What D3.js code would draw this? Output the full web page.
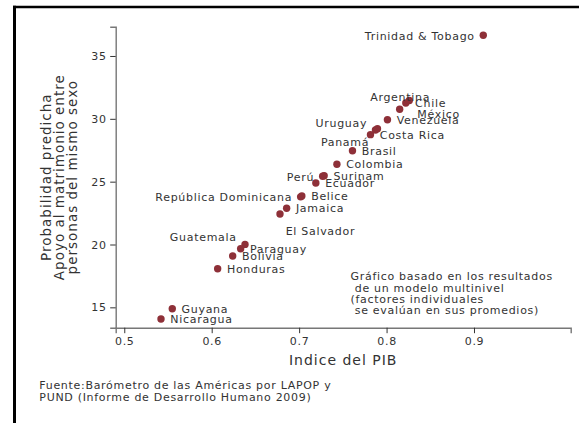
<!DOCTYPE html>
<html>
<head>
<meta charset="utf-8">
<script src="https://cdn.jsdelivr.net/npm/d3@7"></script>
<style>
  html, body { margin: 0; padding: 0; background: #fff; }
  svg { display: block; }
  text { font-family: "DejaVu Sans", Verdana, sans-serif; fill: #333; }
</style>
</head>
<body>
<svg id="chart" width="579" height="423"></svg>
<script>
// ---- data ----
const countries = ["Trinidad & Tobago","México","Chile","Argentina","Venezuela","Panamá","Uruguay","Costa Rica","Brasil","Colombia","Surinam","Perú","Ecuador","República Dominicana","Belice","Jamaica","El Salvador","Guatemala","Paraguay","Bolivia","Honduras","Guyana","Nicaragua"];
const gdpIndex  = [0.9106,0.826,0.822,0.815,0.801,0.7896,0.7873,0.7816,0.761,0.7432,0.7286,0.7269,0.7191,0.7017,0.7031,0.6857,0.6781,0.6381,0.6331,0.624,0.6068,0.5549,0.542];
const support   = [36.65,31.46,31.26,30.76,29.93,29.21,29.11,28.74,27.46,26.38,25.47,25.43,24.89,23.79,23.86,22.88,22.43,20.01,19.66,19.08,18.07,14.89,14.07];
// clock position of each marker label (Stata style)
const labelClock = [9,4,3,12,3,7,10,3,3,3,3,9,3,9,3,3,5,10,3,3,3,3,3];
const xTicks = [0.5,0.6,0.7,0.8,0.9];
const yTicks = [15,20,25,30,35];
const xTitle = "Indice del PIB";
const yTitle = ["Probabilidad predicha","Apoyo al matrimonio entre","personas del mismo sexo"];
const note = ["Gráfico basado en los resultados"," de un modelo multinivel","(factores individuales"," se evalúan en sus promedios)"];
const source = ["Fuente:Barómetro de las Américas por LAPOP y","PUND (Informe de Desarrollo Humano 2009)"];

// ---- layout ----
const svg = d3.select("#chart");
const x = d3.scaleLinear().domain([0.4902, 1.0106]).range([115.7, 570.7]);
const y = d3.scaleLinear().domain([13.38, 37.33]).range([327.7, 26.7]);
const dotColor = "#8e3038";
const ls = "0.7px";

// frame (outer border, partly visible)
svg.append("line").attr("x1",14.5).attr("x2",14.5).attr("y1",5.7).attr("y2",423)
  .attr("stroke","#000").attr("stroke-width",3);
svg.append("line").attr("x1",13).attr("x2",579).attr("y1",7).attr("y2",7)
  .attr("stroke","#000").attr("stroke-width",2.6);

// axes
const xAxis = d3.axisBottom(x).tickValues(xTicks).tickSize(5.5).tickPadding(4).tickFormat(d3.format(".1f"));
const gx = svg.append("g").attr("transform","translate(0,327.7)").call(xAxis);
const yAxis = d3.axisLeft(y).tickValues(yTicks).tickSize(5.5).tickPadding(3.5).tickFormat(d3.format("d"));
const gy = svg.append("g").attr("transform","translate(115.7,0)").call(yAxis);
[gx, gy].forEach(g => {
  g.select(".domain").attr("stroke","#777").attr("stroke-width",1.4);
  g.selectAll(".tick line").attr("stroke","#333").attr("stroke-width",1);
  g.selectAll(".tick text").attr("fill","#333").style("font-family","DejaVu Sans")
    .style("font-size","11px").style("letter-spacing",ls);
});
gx.selectAll(".tick text").attr("dy","0.71em");

// axis titles
svg.append("text").attr("x",343.2).attr("y",364.5).attr("text-anchor","middle")
  .style("font-size","14px").style("letter-spacing","1px").text(xTitle);
const yt = svg.append("text").attr("transform","translate(0,177.2) rotate(-90)")
  .attr("text-anchor","middle").style("font-size","13.5px").style("letter-spacing","1px");
yTitle.forEach((t,i) => {
  yt.append("tspan").attr("x",0).attr("y",50.5 + i*13.4).text(t);
});

// points
const idx = d3.range(countries.length);
svg.append("g").selectAll("circle").data(idx).join("circle")
  .attr("cx", i => x(gdpIndex[i])).attr("cy", i => y(support[i]))
  .attr("r",3.7).attr("fill",dotColor);

// labels
const clockOffsets = {
  3: {dx: 9.3, dy: 0, anchor: "start"},
  9: {dx: -8.5, dy: 0.5, anchor: "end"},
  12:{dx: 0.5, dy: -12, anchor: "middle"},
  4: {dx: 8, dy: 13.5, anchor: "start"},
  7: {dx: -8.3, dy: 13.3, anchor: "end"},
  10:{dx: -8.3, dy: -7.3, anchor: "end"},
  5: {dx: 5.7, dy: 17, anchor: "start"}
};
svg.append("g").selectAll("text").data(idx).join("text")
  .attr("x", i => x(gdpIndex[i]) + clockOffsets[labelClock[i]].dx)
  .attr("y", i => y(support[i]) + clockOffsets[labelClock[i]].dy)
  .attr("dy","0.36em")
  .attr("text-anchor", i => clockOffsets[labelClock[i]].anchor)
  .style("font-size","11px").style("letter-spacing",ls)
  .text(i => countries[i]);

// note
const nt = svg.append("text").style("font-size","11px").style("letter-spacing",ls)
  .attr("xml:space","preserve").style("white-space","pre");
note.forEach((t,i) => {
  nt.append("tspan").attr("x",350.5).attr("y",276.3 + i*11.3).attr("dy","0.36em").text(t);
});

// source
const st = svg.append("text").style("font-size","11px").style("letter-spacing",ls);
source.forEach((t,i) => {
  st.append("tspan").attr("x",39.3).attr("y",385 + i*11.7).attr("dy","0.36em").text(t);
});
</script>
</body>
</html>
